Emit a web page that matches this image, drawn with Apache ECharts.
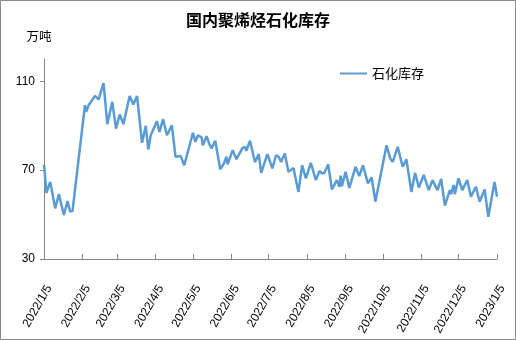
<!DOCTYPE html>
<html>
<head>
<meta charset="utf-8">
<script src="https://cdn.jsdelivr.net/npm/echarts@6/dist/echarts.min.js"></script>
<style>
  html, body { margin: 0; padding: 0; background: #fff; }
  #chart { width: 516px; height: 340px; }
</style>
</head>
<body>
<div id="chart"></div>
<script>
// Polyolefin inventory held by petrochemical producers (10k tonnes)
const dates = [
  '2022-01-05','2022-01-07','2022-01-10','2022-01-14','2022-01-17','2022-01-21','2022-01-24','2022-01-26','2022-01-28',
  '2022-02-07','2022-02-08','2022-02-10','2022-02-11','2022-02-15','2022-02-18','2022-02-22','2022-02-25',
  '2022-03-01','2022-03-04','2022-03-07','2022-03-10','2022-03-15','2022-03-18','2022-03-21','2022-03-25','2022-03-28','2022-03-30',
  '2022-04-01','2022-04-06','2022-04-08','2022-04-11','2022-04-14','2022-04-18','2022-04-21','2022-04-25','2022-04-28',
  '2022-05-05','2022-05-07','2022-05-09','2022-05-12','2022-05-13','2022-05-16','2022-05-18','2022-05-20','2022-05-23','2022-05-27','2022-05-30','2022-05-31',
  '2022-06-01','2022-06-02','2022-06-06','2022-06-09','2022-06-14','2022-06-16','2022-06-17','2022-06-20','2022-06-24','2022-06-27','2022-06-29',
  '2022-07-04','2022-07-08','2022-07-11','2022-07-13','2022-07-15','2022-07-18','2022-07-21','2022-07-25','2022-07-29',
  '2022-08-01','2022-08-04','2022-08-08','2022-08-12','2022-08-15','2022-08-17','2022-08-19','2022-08-22','2022-08-25','2022-08-29','2022-08-31',
  '2022-09-01','2022-09-02','2022-09-05','2022-09-08','2022-09-09','2022-09-13','2022-09-16','2022-09-19','2022-09-23','2022-09-26','2022-09-29',
  '2022-10-08','2022-10-11','2022-10-13','2022-10-17','2022-10-21','2022-10-24','2022-10-28','2022-10-31',
  '2022-11-03','2022-11-07','2022-11-11','2022-11-14','2022-11-18','2022-11-21','2022-11-24','2022-11-28','2022-11-29',
  '2022-12-01','2022-12-02','2022-12-05','2022-12-08','2022-12-12','2022-12-15','2022-12-19','2022-12-22','2022-12-26','2022-12-29',
  '2023-01-03','2023-01-05'
];
const stock = [
  72.5, 59.8, 64.7, 52.8, 59.2, 49.8, 56.1, 51.3, 51.7,
  99.2, 96.2, 99.2, 98.5, 103.4, 101.8, 109.2, 90.7,
  100.7, 88.7, 95.0, 90.7, 103.3, 99.5, 103.3, 82.3, 89.9, 79.3,
  85.7, 92.0, 87.2, 92.9, 85.7, 90.2, 76.0, 76.4, 72.2,
  86.8, 82.7, 85.7, 84.7, 81.2, 85.3, 82.0, 79.7, 83.2, 70.4, 73.0, 72.2,
  76.0, 72.6, 79.0, 74.9, 80.0, 80.5, 78.7, 83.2, 73.5, 77.2, 68.8,
  77.2, 70.8, 76.7, 76.0, 73.7, 77.5, 69.2, 71.0, 60.2,
  72.2, 66.3, 73.3, 65.5, 69.6, 68.5, 68.8, 72.6, 61.3, 65.5, 62.5,
  67.5, 62.8, 69.2, 62.0, 62.5, 71.5, 67.3, 72.2, 64.0, 66.7, 55.8,
  81.2, 75.2, 73.7, 80.5, 71.5, 74.9, 60.2, 68.8,
  62.2, 67.8, 61.0, 65.5, 61.0, 66.0, 54.0, 61.0, 59.2,
  63.3, 59.2, 66.3, 61.0, 65.5, 58.0, 62.5, 55.8, 61.3, 49.0,
  64.7, 58.0
];
const xTickLabels = [
  '2022/1/5','2022/2/5','2022/3/5','2022/4/5','2022/5/5','2022/6/5','2022/7/5',
  '2022/8/5','2022/9/5','2022/10/5','2022/11/5','2022/12/5','2023/1/5'
];
const yTickValues = [30, 70, 110];

const DAY = 86400000;
function toTime(s) {
  const [y, m, d] = s.split(/[-\/]/).map(Number);
  return Date.UTC(y, m - 1, d);
}
// The x axis counts days from the first tick date.
const t0 = toTime(xTickLabels[0]);
const toDay = s => Math.round((toTime(s) - t0) / DAY);
function fmtDay(n) {
  const d = new Date(t0 + Math.round(n) * DAY);
  return d.getUTCFullYear() + '/' + (d.getUTCMonth() + 1) + '/' + d.getUTCDate();
}

const xTicks = xTickLabels.map(toDay);
const lineColor = '#5B9BD5';
const axisColor = '#868686';
const cjk = '"Noto Sans CJK SC", sans-serif';
const latin = '"Liberation Sans", Arial, sans-serif';

const chart = echarts.init(document.getElementById('chart'), null, { renderer: 'canvas' });
chart.setOption({
  animation: false,
  backgroundColor: '#fff',
  title: {
    text: '国内聚烯烃石化库存',
    left: 'center',
    top: 12,
    padding: 0,
    textStyle: { fontSize: 16, fontWeight: 'bold', color: '#000', fontFamily: cjk }
  },
  legend: {
    data: ['石化库存'],
    left: 340,
    top: 67,
    padding: 0,
    icon: 'rect',
    itemWidth: 27,
    itemHeight: 2,
    textStyle: { fontSize: 13, color: '#000', fontFamily: cjk }
  },
  grid: { left: 44, right: 19, top: 59, bottom: 81, containLabel: false, outerBoundsMode: 'none' },
  xAxis: {
    type: 'value',
    min: xTicks[0],
    max: xTicks[xTicks.length - 1],
    splitLine: { show: false },
    axisLine: { lineStyle: { color: axisColor, width: 1 } },
    axisTick: { customValues: xTicks, inside: true, length: 5, lineStyle: { color: axisColor } },
    axisLabel: {
      customValues: xTicks,
      formatter: fmtDay,
      rotate: 60,
      verticalAlign: 'top',
      margin: 24,
      fontSize: 12,
      color: '#000',
      fontFamily: latin
    }
  },
  yAxis: {
    type: 'value',
    min: 30,
    max: 120,
    name: '万吨',
    nameLocation: 'end',
    nameGap: 16,
    nameTextStyle: { fontSize: 12.5, color: '#000', fontFamily: cjk, padding: [0, 10, 0, 0] },
    splitLine: { show: false },
    axisLine: { show: true, lineStyle: { color: axisColor, width: 1 } },
    axisTick: { show: true, customValues: yTickValues, length: 4, lineStyle: { color: axisColor } },
    axisLabel: { customValues: yTickValues, margin: 9, fontSize: 12, color: '#000', fontFamily: latin }
  },
  series: [{
    name: '石化库存',
    type: 'line',
    data: dates.map((d, i) => [toDay(d), stock[i]]),
    symbol: 'none',
    lineStyle: { color: lineColor, width: 2.5 },
    itemStyle: { color: lineColor }
  }],
  graphic: [{
    type: 'rect',
    silent: true,
    shape: { x: 0.5, y: 0.5, width: 515, height: 339 },
    style: { fill: null, stroke: '#898989', lineWidth: 1 }
  }]
});
</script>
</body>
</html>
